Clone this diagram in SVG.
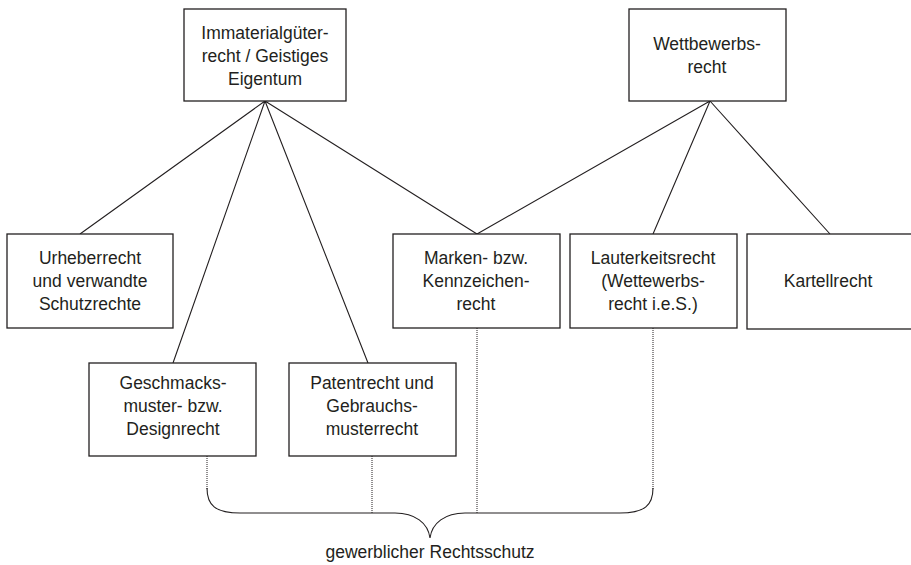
<svg xmlns="http://www.w3.org/2000/svg" width="911" height="565" viewBox="0 0 911 565">
<style>
.box{fill:#fff;stroke:#231f20;stroke-width:1.3}
.t{font-family:"Liberation Sans",Arial,sans-serif;font-size:17.5px;fill:#231f20;text-anchor:middle}
.ln{fill:none;stroke:#231f20;stroke-width:1.1}
.dot{fill:none;stroke:#231f20;stroke-width:1;stroke-dasharray:1 1}
</style>
<rect width="911" height="565" fill="#fff"/>
<g id="connectors">
<path class="ln" d="M265,101 L80,234 M265,101 L173,363 M265,101 L368,363 M265,101 L477,234 M710,101 L477,234 M710,101 L653,234 M710,101 L830,234"/>
<path class="dot" d="M207,456 V490 M372,456 V513 M477,328 V513 M653,328 V490"/>
<path class="ln" d="M207,488 C207,505 215,513 240,513 L395,513 C415,513 428,523 430,538 C432,523 445,513 465,513 L620,513 C645,513 653,505 653,488"/>
</g>
<g id="n-immaterial">
<rect class="box" x="184" y="9" width="162" height="92"/>
<text class="t" x="265" y="39">Immaterialgüter-</text>
<text class="t" x="265" y="62">recht / Geistiges</text>
<text class="t" x="265" y="85">Eigentum</text>
</g>
<g id="n-wettbewerb">
<rect class="box" x="629" y="9" width="157" height="92"/>
<text class="t" x="707" y="50">Wettbewerbs-</text>
<text class="t" x="707" y="73">recht</text>
</g>
<g id="n-urheber">
<rect class="box" x="7" y="234" width="166" height="94"/>
<text class="t" x="90" y="264">Urheberrecht</text>
<text class="t" x="90" y="287">und verwandte</text>
<text class="t" x="90" y="310">Schutzrechte</text>
</g>
<g id="n-marken">
<rect class="box" x="393" y="234" width="167" height="94"/>
<text class="t" x="476" y="264">Marken- bzw.</text>
<text class="t" x="476" y="287">Kennzeichen-</text>
<text class="t" x="476" y="310">recht</text>
</g>
<g id="n-lauterkeit">
<rect class="box" x="570" y="234" width="167" height="94"/>
<text class="t" x="653" y="264">Lauterkeitsrecht</text>
<text class="t" x="653" y="287">(Wettewerbs-</text>
<text class="t" x="653" y="310">recht i.e.S.)</text>
</g>
<g id="n-kartell">
<rect class="box" x="747" y="234" width="180" height="95"/>
<text class="t" x="828" y="287">Kartellrecht</text>
</g>
<g id="n-geschmack">
<rect class="box" x="89" y="363" width="167" height="93"/>
<text class="t" x="173" y="389">Geschmacks-</text>
<text class="t" x="173" y="412">muster- bzw.</text>
<text class="t" x="173" y="435">Designrecht</text>
</g>
<g id="n-patent">
<rect class="box" x="289" y="363" width="167" height="93"/>
<text class="t" x="372" y="389">Patentrecht und</text>
<text class="t" x="372" y="412">Gebrauchs-</text>
<text class="t" x="372" y="435">musterrecht</text>
</g>
<text class="t" x="430" y="558">gewerblicher Rechtsschutz</text>
</svg>
